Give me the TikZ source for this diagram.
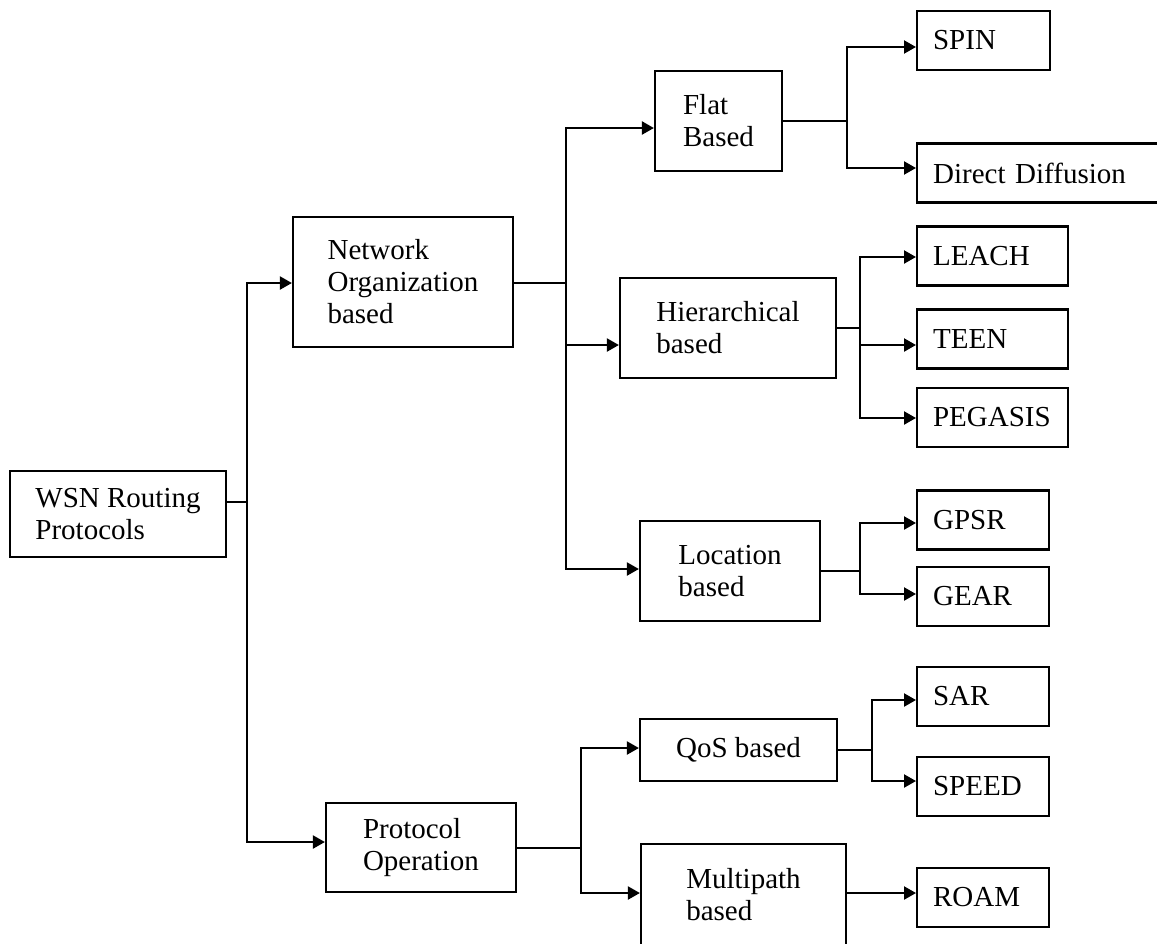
\documentclass[tikz,border=0pt]{standalone}
\usepackage{fontspec}
\setmainfont{Liberation Serif}
\usetikzlibrary{arrows.meta}
\begin{document}
\begin{tikzpicture}[x=0.5pt,y=-0.5pt,
  box/.style={draw, line width=1.1pt, align=left, inner sep=0pt, font=\fontsize{14.5}{16}\selectfont},
  leaf/.style={draw, line width=1.1pt, align=left, anchor=west, inner xsep=8pt, inner ysep=0pt,
               minimum height=29.5pt, text width=#1, font=\fontsize{14.5}{16}\selectfont},
  link/.style={line width=1.1pt, line cap=rect},
  thinlink/.style={line width=0.6pt},
  arr/.style={line width=1.1pt, -{Triangle[length=6pt,width=6.5pt]}}]
\useasboundingbox (0,0) rectangle (1157,943);
\fill[white] (0,0) rectangle (1157,943);

% main boxes
\node[box, minimum width=108pt, minimum height=43pt] (wsn) at (118,514) {WSN Routing\\Protocols};
\node[box, minimum width=110pt, minimum height=65pt] (nob) at (403,282) {Network\\Organization\\based};
\node[box, minimum width=95pt, minimum height=44.5pt] (po) at (421,847.5) {Protocol\\Operation};
\node[box, minimum width=63.5pt, minimum height=50pt] (flat) at (718.5,121) {Flat\\Based};
\node[box, minimum width=108pt, minimum height=50pt] (hier) at (728,328) {Hierarchical\\based};
\node[box, minimum width=90pt, minimum height=50pt] (loc) at (730,571) {Location\\based};
\node[box, minimum width=98.5pt, minimum height=31pt] (qos) at (738.5,750) {QoS based};
\node[box, minimum width=102.5pt, minimum height=51pt] (mp) at (743.5,895) {Multipath\\based};

% leaves
\node[leaf=50.5pt] (spin) at (916,40.5) {SPIN};
\node[leaf=104.5pt] (dd) at (916,173) {Direct Diffusion};
\node[leaf=59.5pt] (leach) at (916,256) {LEACH};
\node[leaf=59.5pt] (teen) at (916,339) {TEEN};
\node[leaf=59.5pt] (peg) at (916,417.5) {PEGASIS};
\node[leaf=50pt] (gpsr) at (916,520) {GPSR};
\node[leaf=50pt] (gear) at (916,596.5) {GEAR};
\node[leaf=50pt] (sar) at (916,696.5) {SAR};
\node[leaf=50pt] (speed) at (916,786.5) {SPEED};
\node[leaf=50pt] (roam) at (916,897.5) {ROAM};

% bus A (root)
\coordinate (a1) at (247,283);
\coordinate (a2) at (247,502);
\coordinate (a3) at (247,842);
\draw[link] (a1) -- (a3);
\draw[thinlink] (wsn.east |- a2) -- (a2);
\draw[arr] (a1) -- (a1 -| nob.west);
\draw[arr] (a3) -- (a3 -| po.west);

% bus B (network organization)
\coordinate (b0) at (566,283);
\coordinate (b1) at (566,128);
\coordinate (b2) at (566,345);
\coordinate (b3) at (566,569);
\draw[link] (nob.east |- b0) -- (b0);
\draw[link] (b1) -- (b3);
\draw[arr] (b1) -- (b1 -| flat.west);
\draw[arr] (b2) -- (b2 -| hier.west);
\draw[arr] (b3) -- (b3 -| loc.west);

% bus C (flat)
\coordinate (c0) at (847,121);
\coordinate (c1) at (847,47);
\coordinate (c2) at (847,168);
\draw[link] (flat.east |- c0) -- (c0);
\draw[link] (c1) -- (c2);
\draw[arr] (c1) -- (c1 -| spin.west);
\draw[arr] (c2) -- (c2 -| dd.west);

% bus D (hierarchical)
\coordinate (d0) at (860,328);
\coordinate (d1) at (860,257);
\coordinate (d2) at (860,345);
\coordinate (d3) at (860,418);
\draw[link] (hier.east |- d0) -- (d0);
\draw[link] (d1) -- (d3);
\draw[arr] (d1) -- (d1 -| leach.west);
\draw[arr] (d2) -- (d2 -| teen.west);
\draw[arr] (d3) -- (d3 -| peg.west);

% bus E (location)
\coordinate (e0) at (860,571);
\coordinate (e1) at (860,523);
\coordinate (e2) at (860,594);
\draw[link] (loc.east |- e0) -- (e0);
\draw[link] (e1) -- (e2);
\draw[arr] (e1) -- (e1 -| gpsr.west);
\draw[arr] (e2) -- (e2 -| gear.west);

% bus F (protocol operation)
\coordinate (f0) at (581,848);
\coordinate (f1) at (581,748);
\coordinate (f2) at (581,893);
\draw[link] (po.east |- f0) -- (f0);
\draw[link] (f1) -- (f2);
\draw[arr] (f1) -- (f1 -| qos.west);
\draw[arr] (f2) -- (f2 -| mp.west);

% bus G (QoS)
\coordinate (g0) at (872,750);
\coordinate (g1) at (872,700);
\coordinate (g2) at (872,781);
\draw[link] (qos.east |- g0) -- (g0);
\draw[link] (g1) -- (g2);
\draw[arr] (g1) -- (g1 -| sar.west);
\draw[arr] (g2) -- (g2 -| speed.west);

% multipath -> ROAM
\coordinate (h0) at (846,893);
\draw[arr] (mp.east |- h0) -- (h0 -| roam.west);
\end{tikzpicture}
\end{document}
